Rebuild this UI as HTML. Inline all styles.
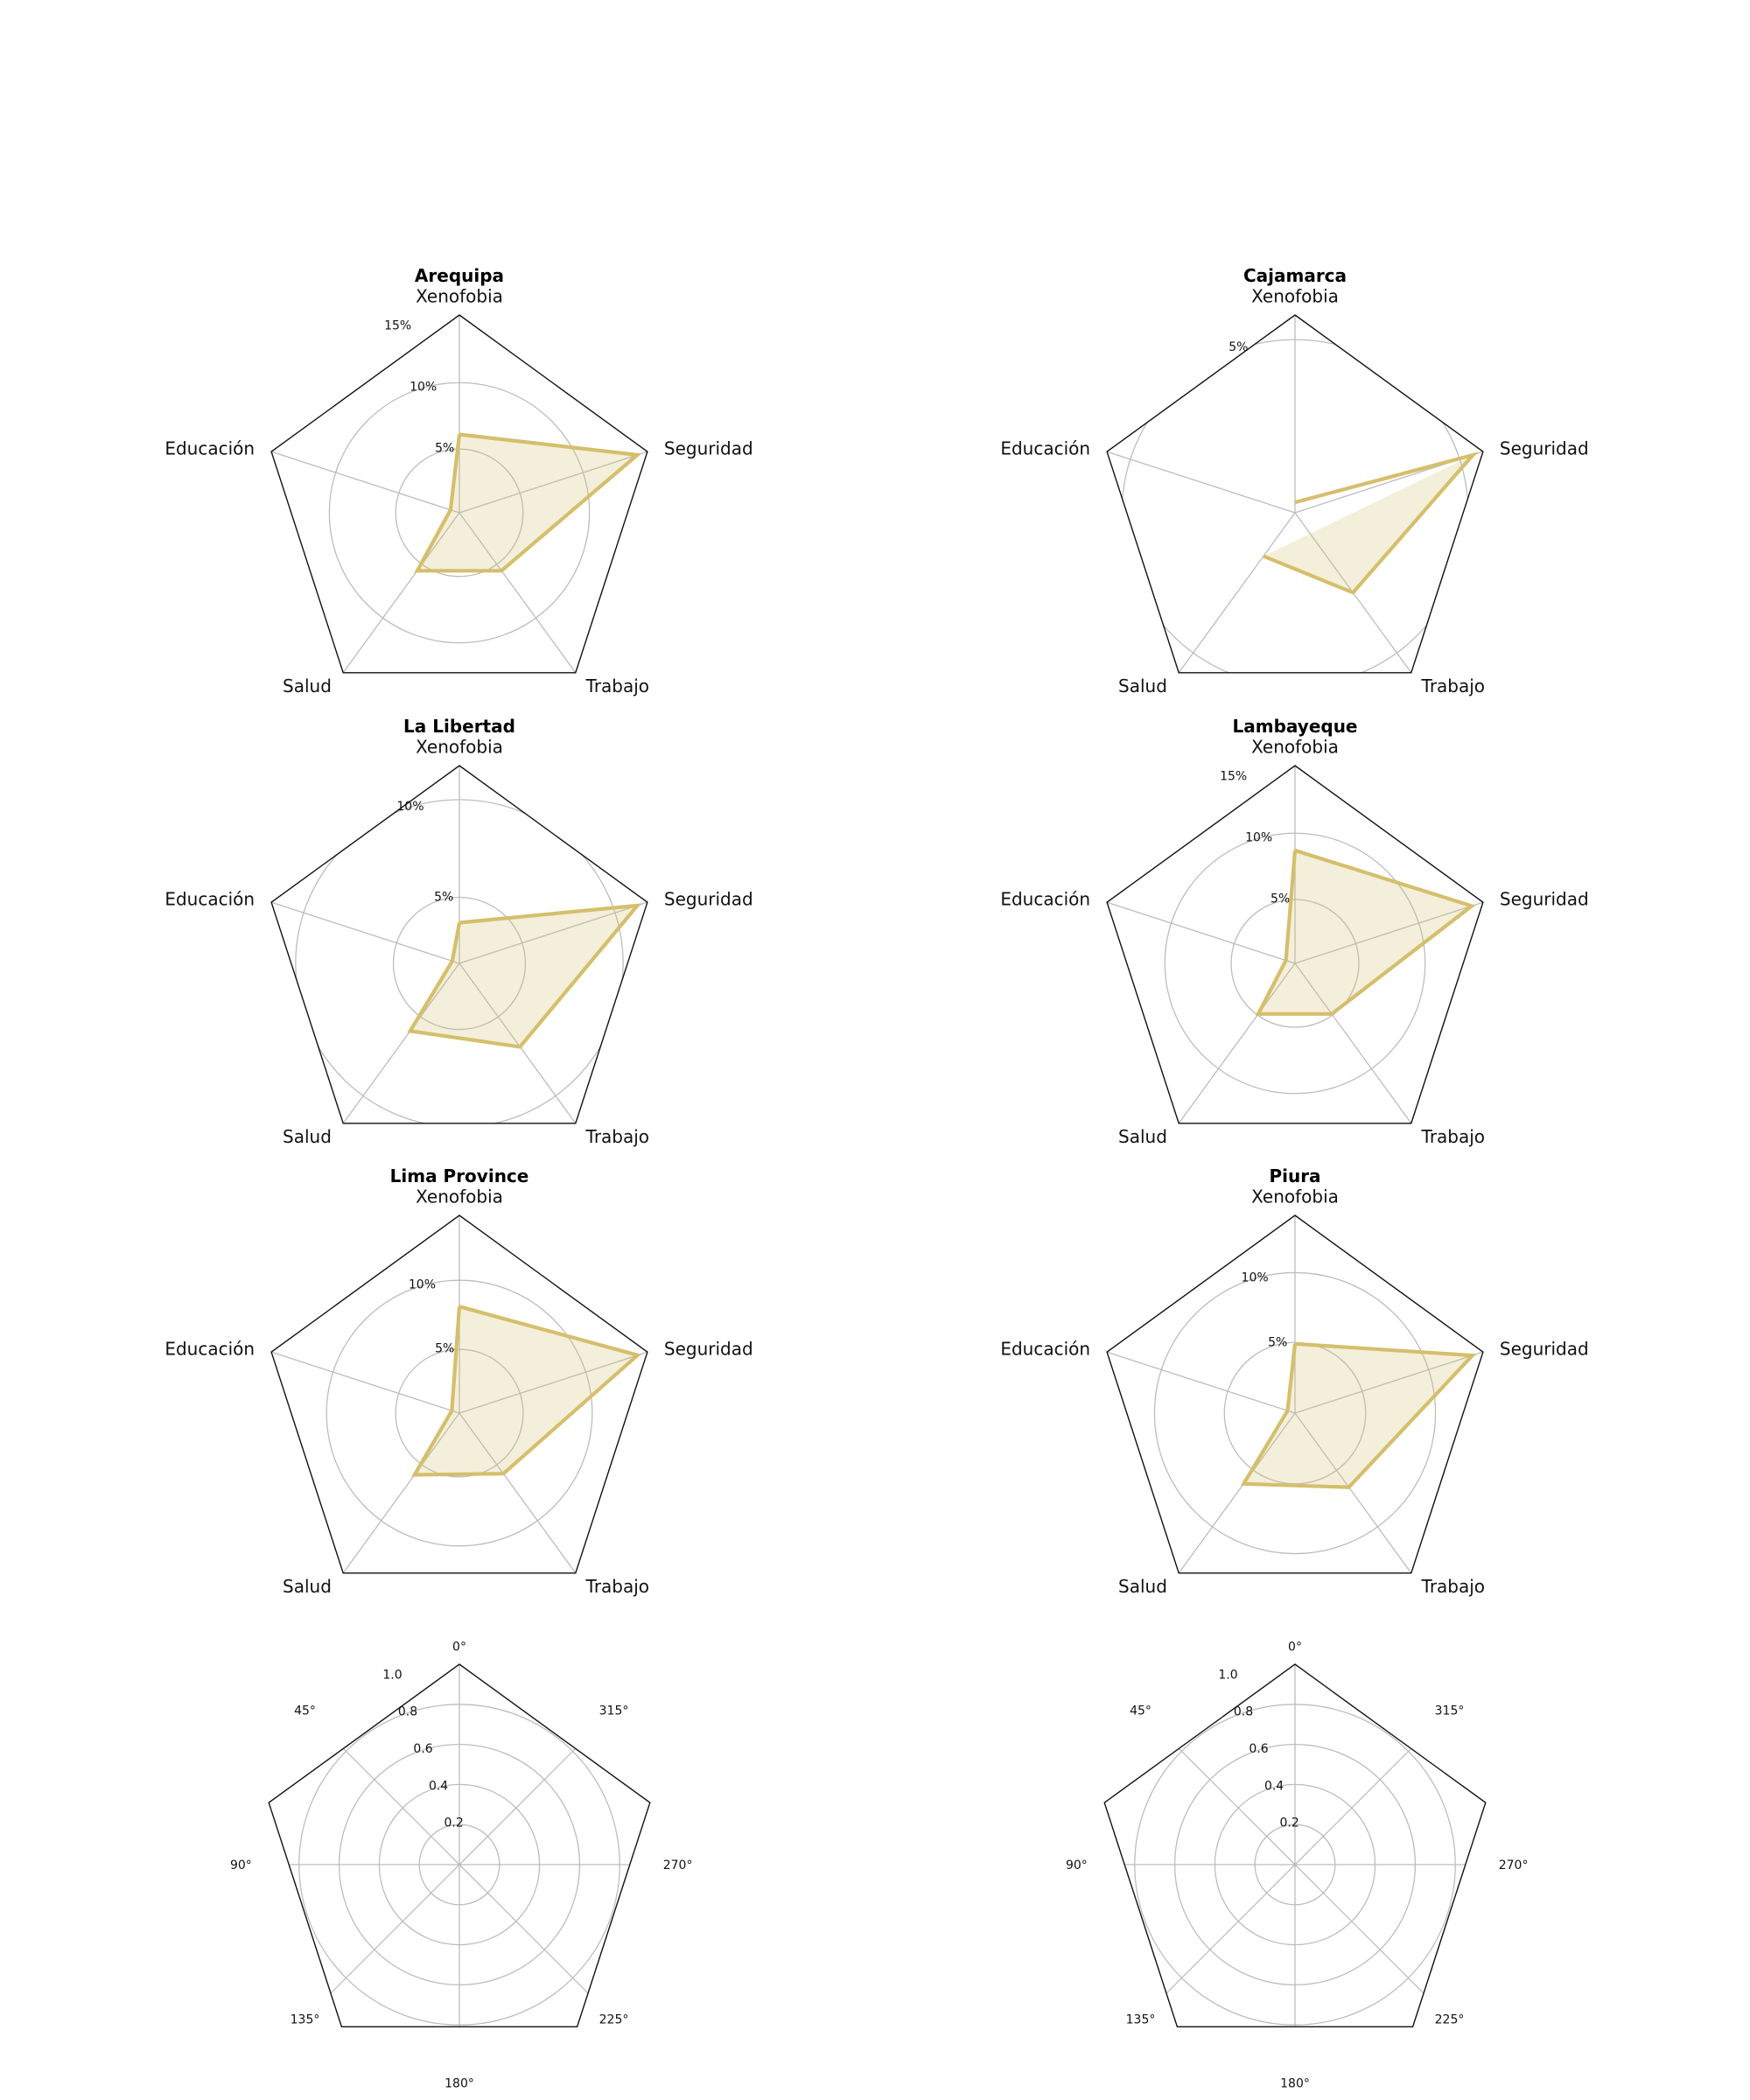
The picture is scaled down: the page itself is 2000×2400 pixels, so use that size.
<!DOCTYPE html>
<html><head><meta charset="utf-8"><style>
html,body{margin:0;padding:0;background:#fff;}
svg{display:block;font-family:"DejaVu Sans","Liberation Sans",sans-serif;}
</style></head><body>
<svg id="fig" width="2000" height="2400" viewBox="0 0 2000 2400" xmlns="http://www.w3.org/2000/svg">
<rect width="2000" height="2400" fill="#fff"/>
</svg>
<script>
// ---- data ----
const categories = ["Xenofobia","Seguridad","Trabajo","Salud","Educación"];
const regions = ["Arequipa","Cajamarca","La Libertad","Lambayeque","Lima Province","Piura"];
const arequipaValues = [6.1, 14.3, 5.6, 5.6, 0.9];
const cajamarcaValues = [0.3, 5.4, 2.85, 1.55, null];
const laLibertadValues = [3.7, 11.2, 6.9, 5.9, 2.0];
const lambayequeValues = [8.7, 14.2, 4.9, 4.9, 0.9];
const limaValues = [8.1, 13.95, 5.8, 5.9, 0.95];
const piuraValues = [4.9, 13.3, 6.5, 6.2, 0.5];
const rMins = [0.2, 0, 1.62, 0.18, 0.38, -0.06];
const rMaxs = [15.1, 5.71, 11.74, 15.1, 14.7, 14.1];
const tickSets = [[5,10,15],[5],[5,10],[5,10,15],[5,10],[5,10]];
const emptyRingTicks = [0.2,0.4,0.6,0.8,1.0];
const emptyAngleLabels = ["0°","45°","90°","135°","180°","225°","270°","315°"];

const allValues = [arequipaValues,cajamarcaValues,laLibertadValues,lambayequeValues,limaValues,piuraValues];
const NS = "http://www.w3.org/2000/svg";
const fig = document.getElementById('fig');
const colX = [525, 1480];
const rowY = [586, 1101, 1615, 2131];
const R = 226;
const LINE = "#d5bf6c";

function el(tag, attrs, parent){
  const e = document.createElementNS(NS, tag);
  for (const k in attrs) e.setAttribute(k, attrs[k]);
  (parent||fig).appendChild(e);
  return e;
}
function pt(cx, cy, r, deg){ const t = deg*Math.PI/180; return [cx + r*Math.sin(t), cy - r*Math.cos(t)]; }
function pentagon(cx, cy, r){ const p=[]; for(let i=0;i<5;i++) p.push(pt(cx,cy,r,i*72)); return p; }
function pstr(p){ return p.map(q=>q[0].toFixed(1)+","+q[1].toFixed(1)).join(" "); }

function drawRadar(idx){
  const cx = colX[idx%2], cy = rowY[Math.floor(idx/2)];
  const vals = allValues[idx], rmin = rMins[idx], rmax = rMaxs[idx];
  const scale = v => (v - rmin)/(rmax - rmin)*R;
  const g = el('g', {});
  
  
  const cp = el('clipPath', {id:'clip'+idx}, g);
  el('polygon', {points: pstr(pentagon(cx,cy,R))}, cp);
  tickSets[idx].forEach(t => {
    const c = el('circle', {cx:cx, cy:cy, r:scale(t), fill:'none', stroke:'#bdbdbd', 'stroke-width':1.3, 'clip-path':'url(#clip'+idx+')'}, g);
    
    
  });
  for (let i=0;i<5;i++){
    const p = pt(cx,cy,R,i*72);
    const s = el('line', {x1:cx, y1:cy, x2:p[0], y2:p[1], stroke:'#bdbdbd', 'stroke-width':1.3}, g);
    
    
  }
  const fr = el('polygon', {points: pstr(pentagon(cx,cy,R)), fill:'none', stroke:'#111', 'stroke-width':1.4}, g);
  
  
  tickSets[idx].forEach(t => {
    const p = pt(cx,cy,scale(t),-22.5);
    const tx = el('text', {x:p[0], y:p[1]-2, 'font-size':14, fill:'#111'}, g);
    tx.textContent = t + '%';
    
    
  });
  const pts = vals.map((v,i) => v==null ? null : pt(cx,cy,scale(v),i*72));
  const hasNull = pts.some(p => !p);
  const fillPts = hasNull ? pts.slice(1).filter(p => p) : pts;
  const fill = el('polygon', {points: pstr(fillPts), fill:LINE, 'fill-opacity':0.25, stroke:'none'}, g);
  
  
  let segs = [], cur = [];
  const closed = pts.concat([pts[0]]);
  closed.forEach(p => { if (p) cur.push(p); else { if (cur.length) segs.push(cur); cur = []; } });
  if (cur.length) segs.push(cur);
  segs.forEach(s => {
    if (s.length < 2) return;
    const pl = el('polyline', {points: pstr(s), fill:'none', stroke:LINE, 'stroke-width':4.2, 'stroke-linejoin':'miter'}, g);
    
    
  });
  const lab = [
    {x:cx, y:cy-1.095*R, a:'middle'},
    {x:cx+1.035*R, y:cy-0.325*R, a:'start'},
    {x:cx+0.80*R, y:cy+0.875*R, a:'middle'},
    {x:cx-0.77*R, y:cy+0.875*R, a:'middle'},
    {x:cx-1.035*R, y:cy-0.325*R, a:'end'}
  ];
  categories.forEach((c,i) => {
    const t = el('text', {x:lab[i].x, y:lab[i].y+7, 'text-anchor':lab[i].a, 'font-size':20, fill:'#111'}, g);
    t.textContent = c;
    
    
  });
  const title = el('text', {x:cx, y:cy-1.2*R+7, 'text-anchor':'middle', 'font-size':20, 'font-weight':'bold', fill:'#000'}, g);
  title.textContent = regions[idx];
  
  
}

function drawEmpty(col){
  const cx = colX[col], cy = rowY[3], r = 229;
  const g = el('g', {});
  
  
  const id = 'eclip'+col;
  const cp = el('clipPath', {id:id}, g);
  const pent = pentagon(cx,cy,r);
  el('polygon', {points: pstr(pent)}, cp);
  emptyRingTicks.forEach(t => {
    const c = el('circle', {cx:cx, cy:cy, r:t*r, fill:'none', stroke:'#bdbdbd', 'stroke-width':1.3, 'clip-path':'url(#'+id+')'}, g);
    
    
  });
  for (let i=0;i<8;i++){
    const p = pt(cx,cy,r*1.3,-i*45);
    const s = el('line', {x1:cx, y1:cy, x2:p[0], y2:p[1], stroke:'#bdbdbd', 'stroke-width':1.3, 'clip-path':'url(#'+id+')'}, g);
    
    
  }
  const fr = el('polygon', {points: pstr(pent), fill:'none', stroke:'#111', 'stroke-width':1.4}, g);
  
  
  emptyAngleLabels.forEach((lbl,i) => {
    const p = pt(cx,cy,r*1.09,-i*45);
    const t = el('text', {x:p[0], y:p[1]+5, 'text-anchor':'middle', 'font-size':14, fill:'#111'}, g);
    t.textContent = lbl;
    
    
  });
  emptyRingTicks.forEach(t => {
    const p = pt(cx,cy,t*r,-22.5);
    const tx = el('text', {x:p[0], y:p[1]-1, 'font-size':14, fill:'#111'}, g);
    tx.textContent = t.toFixed(1);
    
    
  });
}

for (let i=0;i<6;i++) drawRadar(i);
drawEmpty(0); drawEmpty(1);
</script>
</body></html>
